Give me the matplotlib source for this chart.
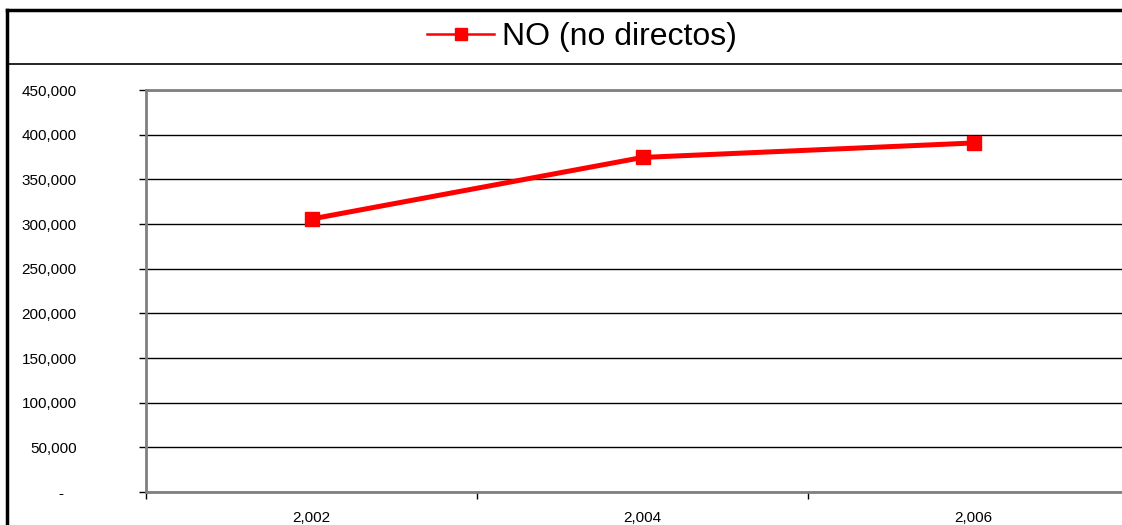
import numpy as np
import matplotlib.pyplot as plt
from matplotlib.lines import Line2D

plt.rcParams['font.family'] = ['Liberation Sans', 'DejaVu Sans']

# Data
years = ['2,002', '2,004', '2,006']
values = [305600, 374500, 390700]
y_ticks = [0, 50000, 100000, 150000, 200000, 250000, 300000, 350000, 400000, 450000]
y_labels = ['-   ', '50,000', '100,000', '150,000', '200,000', '250,000',
            '300,000', '350,000', '400,000', '450,000']
series_name = 'NO (no directos)'

W, H = 1122, 525
fig = plt.figure(figsize=(W / 100, H / 100), dpi=100)

# plot area in pixels: left 146, right 1139 (cut off), top 90, bottom 492
ax = fig.add_axes([146 / W, (H - 492) / H, (1139 - 146) / W, (492 - 90) / H])

x = np.arange(len(years))
ax.plot(x, values, color='#ff0000', lw=3.6, marker='s', ms=9.5,
        markeredgecolor='#ff0000', solid_joinstyle='miter', zorder=3)

ax.set_xlim(-0.5, len(years) - 0.5)
ax.set_ylim(0, 450000)
ax.set_yticks(y_ticks)
ax.set_yticklabels(y_labels, fontsize=11)
ax.set_xticks(np.arange(len(years) + 1) - 0.5)
ax.set_xticklabels([])
ax.set_xticks(x, minor=True)
ax.set_xticklabels(years, minor=True, fontsize=11)
ax.tick_params(axis='x', which='minor', length=0, pad=14)
ax.tick_params(axis='x', which='major', length=5, width=1, color='black')
ax.tick_params(axis='y', length=5, width=1, color='black', pad=45)

ax.yaxis.grid(True, color='black', lw=1.0)
ax.set_axisbelow(True)
for side in ['top', 'left', 'bottom']:
    ax.spines[side].set_color('#808080')
    ax.spines[side].set_linewidth(2)
ax.spines['right'].set_visible(False)

# outer chart border and legend box
fig.add_artist(Line2D([7 / W, 7 / W], [0, 1 - 10 / H], color='black', lw=2.5))
fig.add_artist(Line2D([7 / W, 1], [1 - 10 / H, 1 - 10 / H], color='black', lw=2.5))
fig.add_artist(Line2D([7 / W, 1], [1 - 64 / H, 1 - 64 / H], color='black', lw=1.2))

# legend
handle = Line2D([], [], color='#ff0000', lw=1.8, marker='s', ms=9,
                markeredgecolor='#ff0000')
fig.legend([handle], [series_name], loc='center', bbox_to_anchor=(582 / W, 1 - 37 / H),
           frameon=False, fontsize=23, handlelength=2.1, handletextpad=0.25,
           borderpad=0, borderaxespad=0)

fig.savefig('out.png', dpi=100)
